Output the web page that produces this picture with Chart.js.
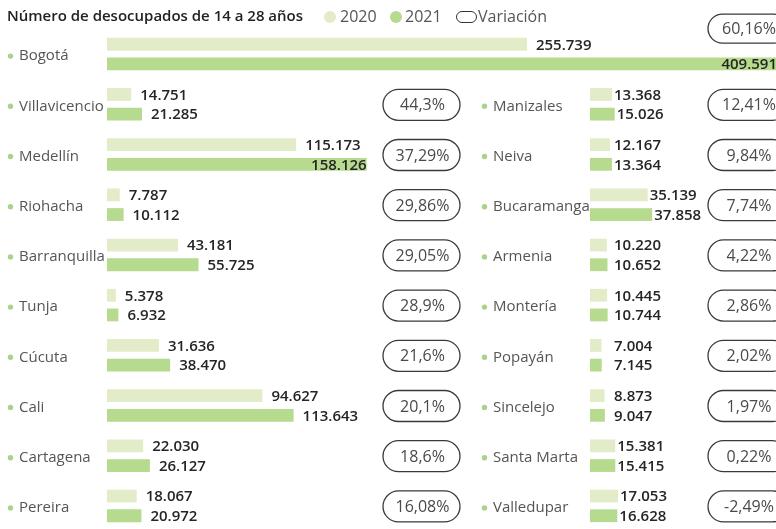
<!DOCTYPE html>
<html><head><meta charset="utf-8">
<script src="https://cdn.jsdelivr.net/npm/chart.js@4.4.1/dist/chart.umd.min.js"></script>
<style>
html,body{margin:0;padding:0;background:#fff;overflow:hidden;width:776px;height:529px;}
#wrap{position:relative;width:776px;height:540px;}
canvas{position:absolute;left:0;top:0;}
.hdr{position:absolute;font-family:'Open Sans',sans-serif;white-space:nowrap;line-height:1;}
.dot{position:absolute;width:12px;height:12px;border-radius:6px;}
.pillicon{position:absolute;width:21px;height:12px;border:1.3px solid #333;border-radius:7px;box-sizing:border-box;}
</style></head><body>
<div id="wrap">
<canvas id="left" width="776" height="540"></canvas>
<canvas id="right" width="776" height="540"></canvas>
<div class="hdr" id="title" style="left:7px;top:8px;font-size:15px;font-weight:600;color:#222">Número de desocupados de 14 a 28 años</div>
<div class="dot" id="d2020" style="left:324px;top:11px;"></div>
<div class="hdr" id="l2020" style="left:340px;top:8px;font-size:16px;color:#555"></div>
<div class="dot" id="d2021" style="left:390px;top:11px;"></div>
<div class="hdr" id="l2021" style="left:405px;top:8px;font-size:16px;color:#555"></div>
<div class="pillicon" style="left:456px;top:11px;"></div>
<div class="hdr" id="lvar" style="left:478px;top:8px;font-size:16px;color:#555"></div>
</div>
<script>
// ---- data ----
const years = ['2020', '2021'];
const variationLabel = 'Variación';
const leftCities = ['Bogotá','Villavicencio','Medellín','Riohacha','Barranquilla','Tunja','Cúcuta','Cali','Cartagena','Pereira'];
const left2020 = [255739, 14751, 115173, 7787, 43181, 5378, 31636, 94627, 22030, 18067];
const left2021 = [409591, 21285, 158126, 10112, 55725, 6932, 38470, 113643, 26127, 20972];
const leftVariation = [60.16, 44.3, 37.29, 29.86, 29.05, 28.9, 21.6, 20.1, 18.6, 16.08];
const rightCities = ['Manizales','Neiva','Bucaramanga','Armenia','Montería','Popayán','Sincelejo','Santa Marta','Valledupar'];
const right2020 = [13368, 12167, 35139, 10220, 10445, 7004, 8873, 15381, 17053];
const right2021 = [15026, 13364, 37858, 10652, 10744, 7145, 9047, 15415, 16628];
const rightVariation = [12.41, 9.84, 7.74, 4.22, 2.86, 2.02, 1.97, 0.22, -2.49];

// ---- style ----
const C2020 = '#e3ecc8';
const C2021 = '#b6da8e';
const BULLET = '#a8d38a';
const FONT = "'Open Sans', sans-serif";
const LEFT_MAX = 407400;
const LEFT_AREA = 669, RIGHT_AREA = 186;
const RIGHT_MAX = LEFT_MAX * RIGHT_AREA / LEFT_AREA;

document.getElementById('d2020').style.background = C2020;
document.getElementById('d2021').style.background = C2021;
document.getElementById('l2020').textContent = years[0];
document.getElementById('l2021').textContent = years[1];
document.getElementById('lvar').textContent = variationLabel;

const fmtNum = v => String(v).replace(/\B(?=(\d{3})+(?!\d))/g, '.');
const fmtPct = v => String(v).replace('.', ',') + '%';

function pill(ctx, cx, cy, w, h, text) {
  const r = h / 2, x = cx - w / 2, y = cy - h / 2;
  ctx.save();
  ctx.beginPath();
  ctx.moveTo(x + r, y);
  ctx.lineTo(x + w - r, y);
  ctx.arc(x + w - r, cy, r, -Math.PI / 2, Math.PI / 2);
  ctx.lineTo(x + r, y + h);
  ctx.arc(x + r, cy, r, Math.PI / 2, Math.PI * 1.5);
  ctx.closePath();
  ctx.lineWidth = 1.3;
  ctx.strokeStyle = '#3a3a3a';
  ctx.stroke();
  ctx.fillStyle = '#4a4a4a';
  ctx.font = '16px ' + FONT;
  ctx.textAlign = 'center';
  ctx.textBaseline = 'middle';
  ctx.fillText(text, cx + 1, cy + 1);
  ctx.restore();
}

function makePlugin(cfg) {
  return {
    id: 'deco',
    afterDatasetsDraw(chart) {
      const ctx = chart.ctx;
      const ys = chart.scales.y;
      // bullets
      ctx.save();
      ctx.fillStyle = BULLET;
      ys.ticks.forEach((t, i) => {
        if (!chart.data.labels[i]) return;
        ctx.beginPath();
        ctx.arc(ys.left - 8.5, ys.getPixelForValue(i) + 2, 2.7, 0, Math.PI * 2);
        ctx.fill();
      });
      ctx.restore();
      // value labels
      ctx.save();
      ctx.font = '600 15px ' + FONT;
      ctx.fillStyle = '#252525';
      ctx.textBaseline = 'middle';
      chart.data.datasets.forEach((ds, di) => {
        const meta = chart.getDatasetMeta(di);
        meta.data.forEach((bar, i) => {
          const v = ds.data[i];
          if (v == null) return;
          const txt = fmtNum(v);
          const w = ctx.measureText(txt).width;
          let x = Math.max(bar.x + cfg.gap, cfg.minX);
          const limit = i === 0 ? chart.width : cfg.limitX;
          if (x + w > limit) {
            ctx.textAlign = 'right';
            x = Math.min(bar.x, chart.width + 1);
          } else {
            ctx.textAlign = 'left';
          }
          ctx.fillText(txt, x, bar.y + 1);
        });
      });
      ctx.restore();
      // variation pills
      cfg.variation.forEach((v, i) => {
        if (v == null) return;
        const cy = ys.getPixelForValue(i);
        if (cfg.isLeft && i === 0) {
          pill(ctx, 748, cy - 25.5, 80, 29, fmtPct(v));
        } else {
          pill(ctx, cfg.pillCx, cy + 0.5, cfg.pillW, 31, fmtPct(v));
        }
      });
    }
  };
}

function build(id, labels, d20, d21, max, padLeft, axisW, plugin) {
  return new Chart(document.getElementById(id), {
    type: 'bar',
    data: {
      labels: labels,
      datasets: [
        { label: years[0], data: d20, backgroundColor: C2020, categoryPercentage: 0.784, barPercentage: 0.65 },
        { label: years[1], data: d21, backgroundColor: C2021, categoryPercentage: 0.784, barPercentage: 0.65 }
      ]
    },
    options: {
      indexAxis: 'y',
      responsive: false,
      animation: false,
      layout: { padding: { top: 29, bottom: 1, left: padLeft, right: 0 } },
      plugins: { legend: { display: false }, tooltip: { enabled: false }, title: { display: false } },
      scales: {
        x: { display: false, min: 0, max: max },
        y: {
          grid: { display: false },
          border: { display: false },
          ticks: { crossAlign: 'far', padding: 0, labelOffset: 2, color: '#555', font: { family: FONT, size: 15 } },
          afterFit(s) { s.width = axisW; }
        }
      }
    },
    plugins: [plugin]
  });
}

build('left', leftCities, left2020, left2021, LEFT_MAX, 19, 88,
  makePlugin({ variation: leftVariation, pillCx: 421.5, pillW: 77, gap: 9, minX: 0, limitX: 380, isLeft: true }));
build('right', [''].concat(rightCities), [null].concat(right2020), [null].concat(right2021), RIGHT_MAX, 493, 97,
  makePlugin({ variation: [null].concat(rightVariation), pillCx: 748, pillW: 80, gap: 2, minX: 614, limitX: 706, isLeft: false }));
</script>
</body></html>
